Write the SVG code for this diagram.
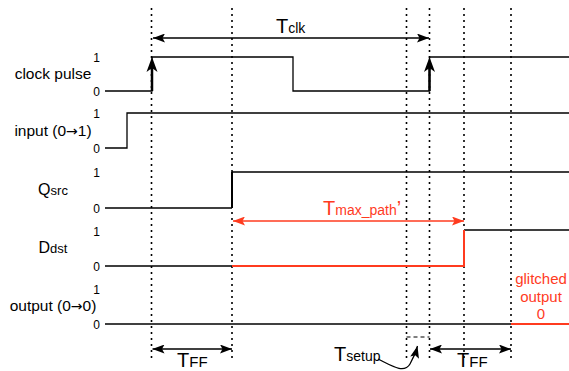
<svg xmlns="http://www.w3.org/2000/svg" width="569" height="371" viewBox="0 0 569 371">
<style>
text{font-family:"Liberation Sans",Arial,sans-serif;fill:#000}
.lbl{font-size:15.5px;text-anchor:middle}
.arw{font-family:"DejaVu Sans",sans-serif;font-size:14px}
.lv{font-size:12px;text-anchor:end}
.w{fill:none;stroke:#000;stroke-width:1.3}
.r{fill:none;stroke:#ff3b1f;stroke-width:2}
.dot{fill:none;stroke:#000;stroke-width:1.6;stroke-dasharray:2 4}
.red{fill:#ff3b1f}
.ar{stroke:#000;stroke-width:1.3;fill:none}
.arr{stroke:#ff3b1f;stroke-width:1.3;fill:none}
</style>
<defs>
<marker id="ah" viewBox="0 0 12 9" refX="12" refY="4.5" markerWidth="12" markerHeight="9" markerUnits="userSpaceOnUse" orient="auto-start-reverse">
<path d="M0,0 L12,4.5 L0,9 L2.5,4.5 z" fill="#000"/>
</marker>
<marker id="ahr" viewBox="0 0 12 9" refX="12" refY="4.5" markerWidth="12" markerHeight="9" markerUnits="userSpaceOnUse" orient="auto-start-reverse">
<path d="M0,0 L12,4.5 L0,9 L2.5,4.5 z" fill="#ff3b1f"/>
</marker>
</defs>
<g id="guides">
<line class="dot" x1="151.5" y1="8" x2="151.5" y2="360"/>
<line class="dot" x1="232" y1="8" x2="232" y2="360"/>
<line class="dot" x1="406.5" y1="8" x2="406.5" y2="360"/>
<line class="dot" x1="429.5" y1="8" x2="429.5" y2="360"/>
<line class="dot" x1="464" y1="8" x2="464" y2="360"/>
<line class="dot" x1="511" y1="8" x2="511" y2="360"/>
</g>
<g id="clock">
<text class="lbl" x="53" y="79">clock pulse</text>
<text class="lv" x="100" y="62">1</text>
<text class="lv" x="100" y="95.5">0</text>
<path class="w" d="M105,91 H152 V57 H293 V91 H429.5 V57 H569"/>
<path d="M152,91 V64" stroke="#000" stroke-width="2.5"/>
<path d="M429.5,91 V64" stroke="#000" stroke-width="2.5"/>
<path d="M152,57 L157.5,72 L152,68 L146.5,72 z" fill="#000"/>
<path d="M429.5,57 L435,72 L429.5,68 L424,72 z" fill="#000"/>
</g>
<g id="input">
<text class="lbl" x="53" y="135.5">input (0<tspan class="arw">→</tspan>1)</text>
<text class="lv" x="100" y="118">1</text>
<text class="lv" x="100" y="152.5">0</text>
<path class="w" d="M105,148 H127 V113 H569"/>
</g>
<g id="qsrc">
<text class="lbl" x="53" y="195"><tspan font-size="16">Q</tspan><tspan font-size="13">src</tspan></text>
<text class="lv" x="100" y="177">1</text>
<text class="lv" x="100" y="212.5">0</text>
<path class="w" d="M105,208 H232 M232,172 H569"/>
<path d="M232,208 V172" stroke="#000" stroke-width="2"/>
</g>
<g id="ddst">
<text class="lbl" x="53" y="253"><tspan font-size="16">D</tspan><tspan font-size="13">dst</tspan></text>
<text class="lv" x="100" y="235.5">1</text>
<text class="lv" x="100" y="270.5">0</text>
<path class="w" d="M105,266 H232 M464,230 H569"/>
<path class="r" d="M232,266 H464 V230"/>
</g>
<g id="output">
<text class="lbl" x="53" y="311">output (0<tspan class="arw">→</tspan>0)</text>
<text class="lv" x="100" y="294">1</text>
<text class="lv" x="100" y="328.5">0</text>
<path class="w" d="M105,324 H511"/>
<path class="r" d="M511,324 H569"/>
<text class="red" font-size="15" text-anchor="middle" x="541" y="284">glitched</text>
<text class="red" font-size="15" text-anchor="middle" x="541" y="302">output</text>
<text class="red" font-size="15" text-anchor="middle" x="541" y="319">0</text>
</g>
<g id="connectors">
<line class="ar" x1="153" y1="38" x2="429" y2="38" marker-start="url(#ah)" marker-end="url(#ah)"/>
<line class="arr" x1="233" y1="221" x2="464" y2="221" marker-start="url(#ahr)" marker-end="url(#ahr)"/>
<line class="ar" x1="152.5" y1="349" x2="232" y2="349" marker-start="url(#ah)" marker-end="url(#ah)"/>
<line class="ar" x1="430" y1="349" x2="511" y2="349" marker-start="url(#ah)" marker-end="url(#ah)"/>
<line x1="406.5" y1="337" x2="429.5" y2="337" stroke="#000" stroke-width="1.2" stroke-dasharray="4 3"/>
<path class="ar" d="M378,359 C392,366 404,374 410,364 C414,357 416,352 417.5,346" marker-end="url(#ah)"/>
</g>
<g id="labels">
<text x="276" y="33"><tspan font-size="20">T</tspan><tspan font-size="14">clk</tspan></text>
<text x="323" y="215" class="red"><tspan font-size="20">T</tspan><tspan font-size="14">max_path</tspan><tspan font-size="20">’</tspan></text>
<text x="177" y="367"><tspan font-size="20">T</tspan><tspan font-size="15">FF</tspan></text>
<text x="457" y="367"><tspan font-size="20">T</tspan><tspan font-size="15">FF</tspan></text>
<text x="334" y="361"><tspan font-size="20">T</tspan><tspan font-size="14">setup</tspan></text>
</g>
</svg>
